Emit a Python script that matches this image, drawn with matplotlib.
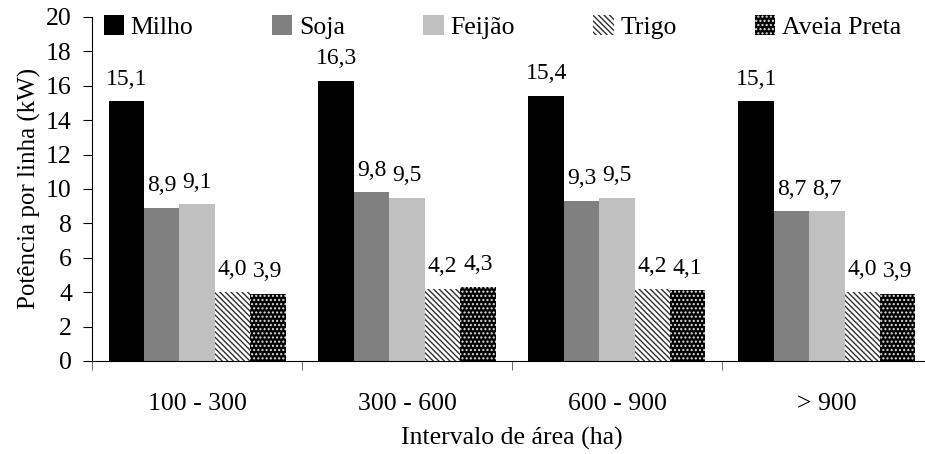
import numpy as np
import matplotlib.pyplot as plt

plt.rcParams['font.family'] = ['Liberation Serif', 'DejaVu Serif']
plt.rcParams['hatch.linewidth'] = 1.0

categorias = ["100 - 300", "300 - 600", "600 - 900", "> 900"]
culturas = ["Milho", "Soja", "Feijão", "Trigo", "Aveia Preta"]
milho = [15.1, 16.3, 15.4, 15.1]
soja = [8.9, 9.8, 9.3, 8.7]
feijao = [9.1, 9.5, 9.5, 8.7]
trigo = [4.0, 4.2, 4.2, 4.0]
aveia = [3.9, 4.3, 4.1, 3.9]
series = [milho, soja, feijao, trigo, aveia]

cores = ["black", "#808080", "#c0c0c0", "white", "black"]
hatches = [None, None, None, "\\\\\\\\\\\\", "...."]
edges = ["black", "#808080", "#c0c0c0", "#303030", "#e0e0e0"]

fig = plt.figure(figsize=(9.25, 4.54), dpi=100)
# the x axis runs a bit past the right edge in the original
ax = fig.add_axes([0.0995, 0.205, 0.908, 0.7577])

x = np.arange(len(categorias))
w = 0.1686
for i, (nome, vals) in enumerate(zip(culturas, series)):
    pos = x + (i - 2) * w
    ax.bar(pos, vals, w, color=cores[i], hatch=hatches[i],
           edgecolor=edges[i], linewidth=0, label=nome)
    for xp, v in zip(pos, vals):
        ax.annotate(f"{v:.1f}".replace(".", ","), (xp, v), xytext=(0, 12),
                    textcoords="offset points", ha="center", va="baseline",
                    fontsize=17)

ax.set_xlim(-0.5, len(categorias) - 0.5)
ax.set_ylim(0, 20)
ax.set_yticks(range(0, 21, 2))
ax.set_xticks(x)
ax.set_xticklabels(categorias)
ax.set_xticks(np.arange(-0.5, len(categorias)), minor=True)
ax.tick_params(axis="x", which="major", length=0, pad=23, labelsize=18.5)
ax.tick_params(axis="x", which="minor", length=6.5, direction="out", color="#555555")
ax.tick_params(axis="y", labelsize=18.5, direction="out", length=6.5, pad=8)
ax.spines["top"].set_visible(False)
ax.spines["right"].set_visible(False)
ax.set_xlabel("Intervalo de área (ha)", fontsize=18.5, labelpad=9)
ax.set_ylabel("Potência por linha (kW)", fontsize=18, labelpad=4)

ax.legend(loc="center left", bbox_to_anchor=(0.014, 0.97), ncol=5, frameon=False,
          fontsize=18.5, handlelength=0.8, handleheight=0.8, handletextpad=0.25,
          columnspacing=3.05, borderaxespad=0, borderpad=0)

fig.savefig("out.png", dpi=100)
